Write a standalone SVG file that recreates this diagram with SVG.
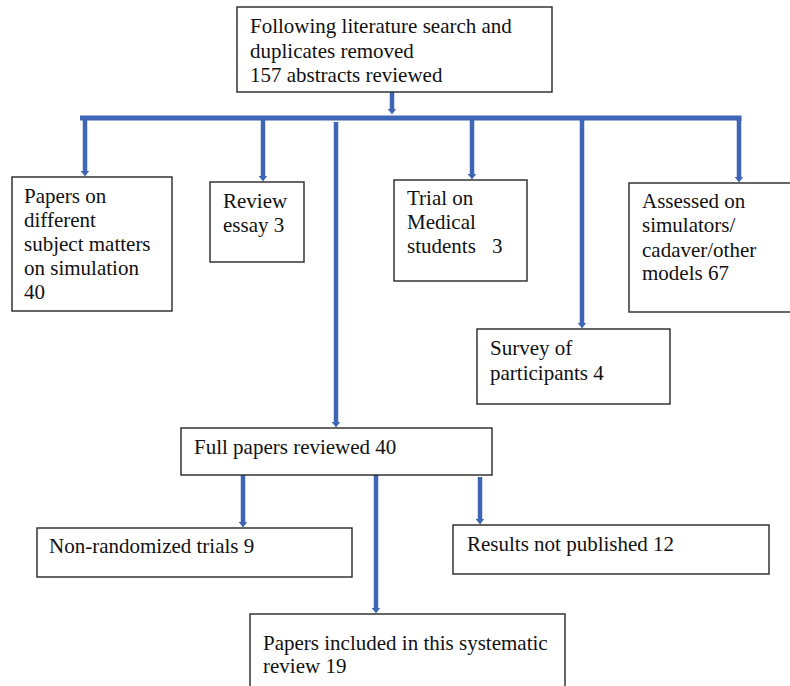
<svg xmlns="http://www.w3.org/2000/svg" width="790" height="686" viewBox="0 0 790 686">
<defs>
<style>
.box{fill:#ffffff;stroke:#262626;stroke-width:1.4}
.t{font-family:'Liberation Serif','Times New Roman',Times,'Tinos','DejaVu Serif',serif;font-size:21px;fill:#111111}
.c{stroke:#3F66B4;stroke-width:4.5;fill:none}
.bar{stroke:#3F66B4;stroke-width:5;fill:none}
</style>
<marker id="ah" markerUnits="userSpaceOnUse" viewBox="0 0 6 9" markerWidth="6" markerHeight="9" refX="0.5" refY="4.5" orient="auto">
<path d="M0,0 L6,4.5 L0,9 z" fill="#3F66B4"/>
</marker>
</defs>
<rect width="790" height="686" fill="#ffffff"/>

<g id="connectors">
<line class="c" x1="392" y1="92" x2="392" y2="109" marker-end="url(#ah)"/>
<polyline class="bar" points="80,118 739,118 739,121"/>
<line class="c" x1="85" y1="118" x2="85" y2="171" marker-end="url(#ah)"/>
<line class="c" x1="263" y1="118" x2="263" y2="176" marker-end="url(#ah)"/>
<line class="c" x1="336" y1="122" x2="336" y2="422" marker-end="url(#ah)"/>
<line class="c" x1="472" y1="118" x2="472" y2="174" marker-end="url(#ah)"/>
<line class="c" x1="582" y1="120" x2="582" y2="323" marker-end="url(#ah)"/>
<line class="c" x1="739" y1="118" x2="739" y2="177" marker-end="url(#ah)"/>
<line class="c" x1="243" y1="475" x2="243" y2="522" marker-end="url(#ah)"/>
<line class="c" x1="376" y1="475" x2="376" y2="608" marker-end="url(#ah)"/>
<line class="c" x1="480" y1="477" x2="480" y2="519" marker-end="url(#ah)"/>
</g>

<g id="n-top">
<rect class="box" x="237" y="7" width="315" height="85"/>
<text class="t" x="250" y="33">Following literature search and</text>
<text class="t" x="250" y="57.5">duplicates removed</text>
<text class="t" x="250" y="82">157 abstracts reviewed</text>
</g>

<g id="n-papers-on">
<rect class="box" x="12" y="177" width="160" height="134"/>
<text class="t" x="24" y="203">Papers on</text>
<text class="t" x="24" y="227">different</text>
<text class="t" x="24" y="251">subject matters</text>
<text class="t" x="24" y="275">on simulation</text>
<text class="t" x="24" y="299">40</text>
</g>

<g id="n-review">
<rect class="box" x="210" y="182" width="94" height="80"/>
<text class="t" x="223" y="208">Review</text>
<text class="t" x="223" y="232">essay 3</text>
</g>

<g id="n-trial">
<rect class="box" x="394" y="180" width="133" height="101"/>
<text class="t" x="407" y="205">Trial on</text>
<text class="t" x="407" y="229">Medical</text>
<text class="t" x="407" y="253">students<tspan x="492">3</tspan></text>
</g>

<g id="n-assessed">
<rect class="box" x="629" y="183" width="170" height="129"/>
<text class="t" x="642" y="208">Assessed on</text>
<text class="t" x="642" y="232">simulators/</text>
<text class="t" x="642" y="257">cadaver/other</text>
<text class="t" x="642" y="280">models 67</text>
</g>

<g id="n-survey">
<rect class="box" x="477" y="329" width="193" height="75"/>
<text class="t" x="490" y="355">Survey of</text>
<text class="t" x="490" y="380">participants 4</text>
</g>

<g id="n-full">
<rect class="box" x="181" y="428" width="311" height="47"/>
<text class="t" x="194" y="454">Full papers reviewed 40</text>
</g>

<g id="n-nonrand">
<rect class="box" x="37" y="528" width="315" height="49"/>
<text class="t" x="49" y="553">Non-randomized trials 9</text>
</g>

<g id="n-results">
<rect class="box" x="453" y="525" width="316" height="49"/>
<text class="t" x="467" y="551">Results not published 12</text>
</g>

<g id="n-included">
<rect class="box" x="250" y="614" width="315" height="90"/>
<text class="t" x="263" y="650">Papers included in this systematic</text>
<text class="t" x="263" y="673">review 19</text>
</g>
</svg>
